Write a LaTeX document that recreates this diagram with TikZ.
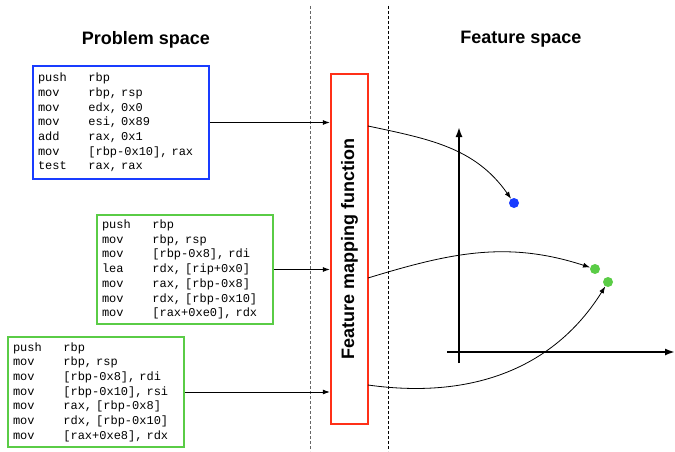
\documentclass[tikz,border=0pt]{standalone}
\usepackage{fontspec}
\setmainfont{Liberation Sans}
\newfontfamily\codefont{Liberation Mono}
\usetikzlibrary{arrows.meta}

\definecolor{blueb}{RGB}{25,60,255}
\definecolor{greenb}{RGB}{90,204,70}
\definecolor{redb}{RGB}{255,48,24}

\newcommand{\ins}[2]{\makebox[50.4pt][l]{#1}#2}

\begin{document}
\begin{tikzpicture}
  [x=1pt,y=1pt,every node/.style={inner sep=0pt}]

	\tikzset{
	codebox/.style = {draw,line width=2.2pt,align=left,text width=166pt,inner xsep=5pt,
	  minimum width=176pt,font=\codefont\fontsize{12}{14.7}\selectfont},
	heading/.style = {font=\bfseries\fontsize{18}{20}\selectfont},
	dot/.style = {circle,minimum size=10pt},
	map/.style = {-{Latex[length=7pt,width=5pt]},line width=0.8pt},
	axis/.style = {-{Latex[length=10pt,width=7pt]},line width=1.8pt}
	}

  \useasboundingbox (0,0) rectangle (675,451);

  % separators
  \draw[gray!80!black,dashed,dash pattern=on 3pt off 2pt,line width=1pt] (310,445) -- (310,0);
  \draw[dashed,dash pattern=on 3pt off 2pt,line width=1pt] (388,445) -- (388,0);

  \node[heading] (hprob) at (146,411) {Problem space};
  \node[heading] (hfeat) at (521,412) {Feature space};

  % code blocks
  \node[codebox,draw=blueb,minimum height=113pt] (blk1) at (121,328.5) {%
    \ins{push}{rbp}\\ \ins{mov}{rbp, rsp}\\ \ins{mov}{edx, 0x0}\\ \ins{mov}{esi, 0x89}\\
    \ins{add}{rax, 0x1}\\ \ins{mov}{[rbp-0x10], rax}\\ \ins{test}{rax, rax}};
  \node[codebox,draw=greenb,minimum height=109pt] (blk2) at (185,181.5) {%
    \ins{push}{rbp}\\ \ins{mov}{rbp, rsp}\\ \ins{mov}{[rbp-0x8], rdi}\\ \ins{lea}{rdx, [rip+0x0]}\\
    \ins{mov}{rax, [rbp-0x8]}\\ \ins{mov}{rdx, [rbp-0x10]}\\ \ins{mov}{[rax+0xe0], rdx}};
  \node[codebox,draw=greenb,minimum height=110pt] (blk3) at (96,59) {%
    \ins{push}{rbp}\\ \ins{mov}{rbp, rsp}\\ \ins{mov}{[rbp-0x8], rdi}\\ \ins{mov}{[rbp-0x10], rsi}\\
    \ins{mov}{rax, [rbp-0x8]}\\ \ins{mov}{rdx, [rbp-0x10]}\\ \ins{mov}{[rax+0xe8], rdx}};

  % mapping function
  \node[draw=redb,line width=2.4pt,minimum width=37pt,minimum height=350pt,fill=white] (fmap) at (349.5,202) {};
  \node[rotate=90,heading] (fmaplbl) at (fmap.center) {Feature mapping function};

  \foreach \blk in {blk1,blk2,blk3}
    \draw[map] (\blk.east) -- (\blk.east -| fmap.west);

  % feature space
  \coordinate (ybot) at (459,88);
  \coordinate (ytop) at (459,324);
  \coordinate (xleft) at (447,99);
  \coordinate (xright) at (675,99);
  \draw[axis] (ybot) -- (ytop);
  \draw[axis] (xleft) -- (xright);

  \node[dot,fill=blueb] (pt1) at (514,248) {};
  \node[dot,fill=greenb] (pt2) at (595,182) {};
  \node[dot,fill=greenb] (pt3) at (608,169) {};

  \coordinate (o1) at (368,325);
  \coordinate (o2) at (368,173);
  \coordinate (o3) at (368,66);
  \draw[map] (o1) to[out=-12,in=125] (pt1);
  \draw[map] (o2) to[out=17,in=162] (pt2);
  \draw[map] (o3) to[out=-8,in=238] (pt3);

\end{tikzpicture}
\end{document}
